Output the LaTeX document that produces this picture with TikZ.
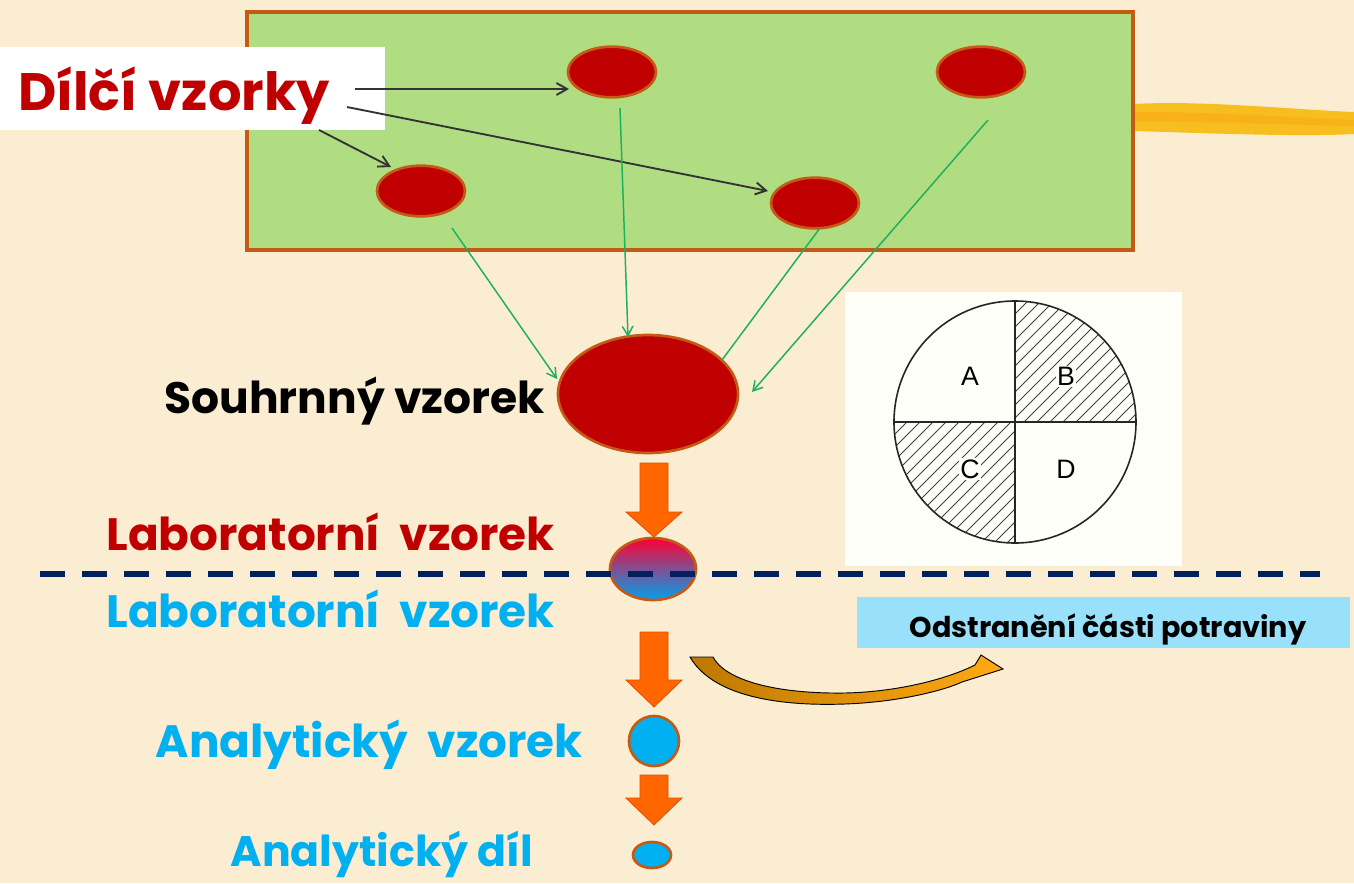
\documentclass[tikz,border=0pt]{standalone}
\usepackage{fontspec}
\setmainfont{Poppins}
\newfontfamily\piefont{Liberation Sans}
\usetikzlibrary{arrows.meta,shapes.geometric}
\definecolor{bg}{RGB}{250,237,210}
\definecolor{field}{RGB}{176,220,130}
\definecolor{fieldedge}{RGB}{196,90,20}
\definecolor{sred}{RGB}{192,0,0}
\definecolor{edge}{RGB}{196,90,20}
\definecolor{txtred}{RGB}{192,0,0}
\definecolor{txtblue}{RGB}{0,176,240}
\definecolor{gline}{RGB}{30,176,90}
\definecolor{navy}{RGB}{0,32,96}
\definecolor{orangeA}{RGB}{255,102,0}
\definecolor{orangeB}{RGB}{220,80,0}
\definecolor{cyanbox}{RGB}{153,224,250}
\definecolor{brush}{RGB}{246,190,30}
\tikzset{
  sample/.style={ellipse, draw=edge, fill=sred, line width=2pt, minimum width=66pt, minimum height=38pt, inner sep=0pt},
  greenline/.style={draw=gline, line width=1.1pt},
  greenarrow/.style={greenline, -{Straight Barb[length=7pt,width=8pt]}},
  blackarrow/.style={draw=black!80, line width=1.4pt, -{Straight Barb[length=8pt,width=9pt]}},
  blockarrow/.style={fill=orangeA, draw=orangeB, line width=0.6pt},
  lbl/.style={font=\bfseries\fontsize{34}{40}\selectfont, inner sep=0pt},
  hatch/.style={line width=0.6pt, draw=black!75}
}
\begin{document}
\begin{tikzpicture}[x=0.75pt,y=-0.75pt]
\fill[bg] (0,0) rectangle (1354,883);
\useasboundingbox (0,0) rectangle (1354,883);
% brush stroke
\fill[brush] (1135,104) .. controls (1200,100) and (1300,110) .. (1354,112) -- (1354,134) .. controls (1300,137) and (1200,133) .. (1135,131) -- cycle;
\fill[brush!80!orange] (1135,112) .. controls (1220,112) and (1300,118) .. (1354,120) -- (1354,126) .. controls (1300,125) and (1220,122) .. (1135,121) -- cycle;
% field
\draw[fill=field, draw=fieldedge, line width=2.5pt] (247,12) rectangle (1133,250);
% label box
\node[fill=white, minimum width=288.75pt, minimum height=62.25pt, inner sep=0pt, anchor=north west] (lblbox) at (0,47) {};
\node[anchor=base west, inner sep=0pt, text=txtred, font=\bfseries\fontsize{39.5}{46}\selectfont] (dilci) at (18,110) {Dílčí vzorky};
% sub-samples
\node[sample] (e1) at (612,72) {};
\node[sample] (e2) at (981,72) {};
\node[sample] (e3) at (421,191) {};
\node[sample] (e4) at (815,203) {};
% black arrows
\coordinate (b1s) at (355,89);
\coordinate (b1e) at (569,89);
\coordinate (b2s) at (319,130);
\coordinate (b2e) at (391,167);
\coordinate (b3s) at (347,107);
\coordinate (b3e) at (768,191);
\draw[blackarrow] (b1s) -- (b1e);
\draw[blackarrow] (b2s) -- (b2e);
\draw[blackarrow] (b3s) -- (b3e);
% combined sample
\node[ellipse, draw=edge, fill=sred, line width=2pt, minimum width=135pt, minimum height=88.5pt, inner sep=0pt] (big) at (648,394) {};
\node[lbl, anchor=base east, text=black, font=\bfseries\fontsize{33}{40}\selectfont] (souhrn) at (545,413) {Souhrnný vzorek};
% green lines
\coordinate (g1s) at (452,228);
\coordinate (g1e) at (557,379);
\coordinate (g2s) at (620,108);
\coordinate (g2e) at (628,337);
\coordinate (g3s) at (820,228);
\coordinate (g3e) at (722,360);
\coordinate (g4s) at (988,120);
\coordinate (g4e) at (752,392);
\draw[greenarrow] (g1s) -- (g1e);
\draw[greenarrow] (g2s) -- (g2e);
\draw[greenline] (g3s) -- (g3e);
\draw[greenarrow] (g4s) -- (g4e);
% pie diagram
\fill[white!98!yellow] (845,292) rectangle (1182,566);
\begin{scope}
\clip (1015,422) circle (121);
\begin{scope}
\clip (1015,300) rectangle (1137,422);
\foreach \k in {600,613,...,1250} \draw[hatch] (\k,560) -- (\k+280,280);
\end{scope}
\begin{scope}
\clip (893,422) rectangle (1015,544);
\foreach \k in {600,613,...,1250} \draw[hatch] (\k,560) -- (\k+280,280);
\end{scope}
\end{scope}
\draw[line width=1.2pt, draw=black!85] (1015,422) circle (121);
\draw[line width=1.2pt, draw=black!85] (894,422) -- (1136,422);
\draw[line width=1.2pt, draw=black!85] (1015,301) -- (1015,543);
\node[font=\piefont\fontsize{20}{24}\selectfont, fill=white!98!yellow, inner sep=1pt] (pa) at (970,376) {A};
\node[font=\piefont\fontsize{20}{24}\selectfont, fill=white!98!yellow, inner sep=1pt] (pb) at (1066,376) {B};
\node[font=\piefont\fontsize{20}{24}\selectfont, fill=white!98!yellow, inner sep=1pt] (pc) at (970,469) {C};
\node[font=\piefont\fontsize{20}{24}\selectfont, fill=white!98!yellow, inner sep=1pt] (pd) at (1066,469) {D};
% block arrow 1
\draw[blockarrow] (640,463) -- (668,463) -- (668,512) -- (682,512) -- (654,537) -- (626,512) -- (640,512) -- cycle;
\node[lbl, anchor=base east, text=txtred] (lab1) at (555,550) {Laboratorní\ \ vzorek};
% lab sample gradient
\node[ellipse, draw=edge, line width=2pt, minimum width=64.5pt, minimum height=46.5pt, inner sep=0pt,
  top color={rgb,255:red,255;green,0;blue,50}, middle color={rgb,255:red,105;green,0;blue,150}, bottom color={rgb,255:red,0;green,160;blue,240}] (lab) at (653,569) {};
% dashed line
\coordinate (dl) at (40,574);
\coordinate (dr) at (1320,574);
\draw[navy, line width=4.5pt, dash pattern=on 19pt off 12.5pt] (dl) -- (dr);
\node[lbl, anchor=base east, text=txtblue] (lab2) at (555,627) {Laboratorní\ \ vzorek};
% removal box
\fill[cyanbox] (857,597) rectangle (1350,648);
\node[anchor=base, inner sep=0pt, font=\bfseries\fontsize{21.5}{25}\selectfont] (odstr) at (1108,637) {Odstranění části potraviny};
% block arrow 2
\draw[blockarrow] (640,632) -- (668,632) -- (668,680) -- (682,680) -- (654,707) -- (626,680) -- (640,680) -- cycle;
% curved arrow
\shade[left color={rgb,255:red,190;green,120;blue,0}, right color={rgb,255:red,255;green,170;blue,20}, draw=black, line width=0.7pt]
 (690,657) .. controls (715,700) and (790,706) .. (845,704) .. controls (900,702) and (945,690) .. (962,682) -- (1003,669) -- (981,655) -- (975,665) .. controls (945,680) and (895,692) .. (845,693) .. controls (775,694) and (725,680) .. (713,657) -- cycle;
% analytical sample
\node[circle, draw=edge, fill=txtblue, line width=2pt, minimum size=37.5pt, inner sep=0pt] (an) at (654,741) {};
\node[lbl, anchor=base east, text=txtblue] (an1) at (583,757) {Analytický\ \ vzorek};
% block arrow 3
\draw[blockarrow] (640,775) -- (668,775) -- (668,798) -- (682,798) -- (654,825) -- (626,798) -- (640,798) -- cycle;
% analytical portion
\node[ellipse, draw=edge, fill=txtblue, line width=2pt, minimum width=28.5pt, minimum height=19.5pt, inner sep=0pt] (dil) at (652,855) {};
\node[lbl, anchor=base east, text=txtblue, font=\bfseries\fontsize{32}{38}\selectfont] (an2) at (533,866) {Analytický díl};
\end{tikzpicture}
\end{document}
